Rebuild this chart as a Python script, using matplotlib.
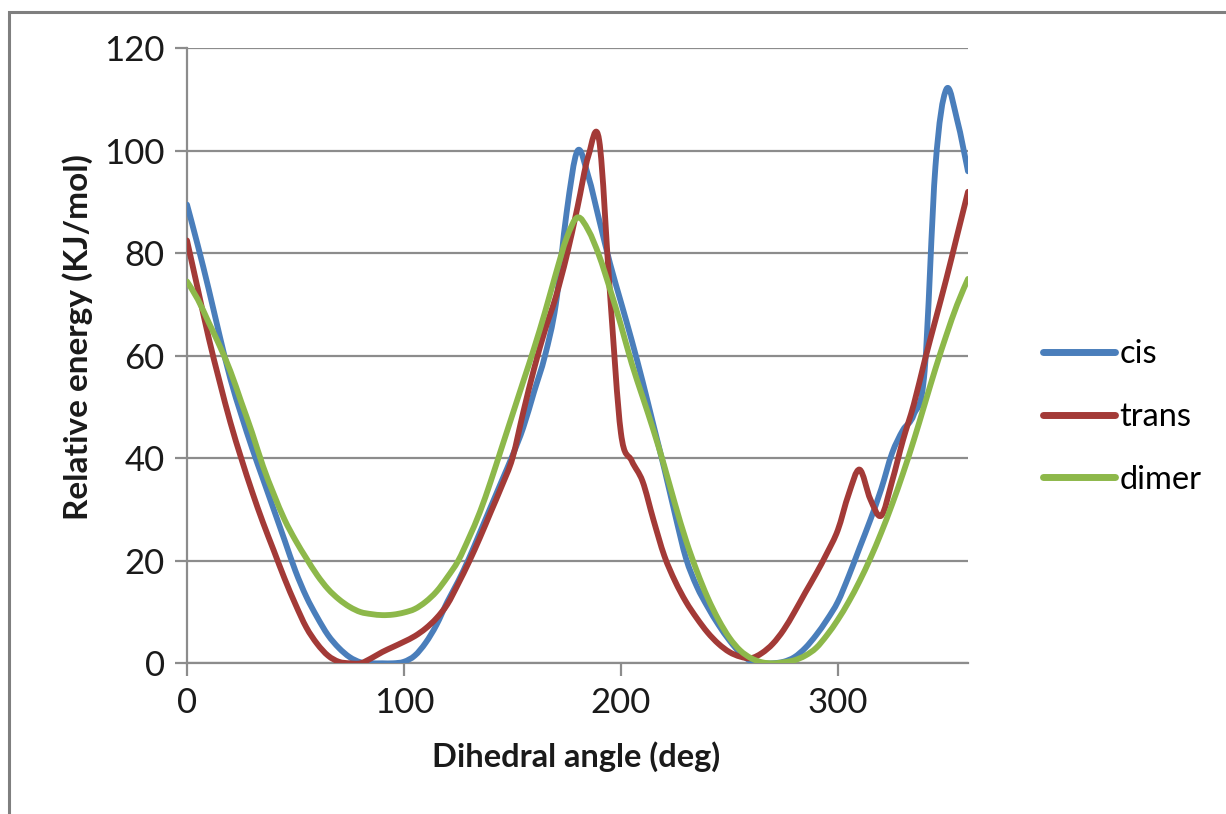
import numpy as np
import matplotlib
matplotlib.use("Agg")
import matplotlib.pyplot as plt
from matplotlib.path import Path
from matplotlib.patches import PathPatch, Rectangle
from matplotlib.lines import Line2D

plt.rcParams['font.family'] = ['Lato', 'DejaVu Sans']

angles = list(range(0, 361, 5))

cis = [89.5, 81.5, 73, 64, 55.5, 48.5, 42, 36, 30, 24, 18, 13, 9, 5.5, 3, 1.2,
       0.2, 0, 0, 0, 0.3, 1.5, 4, 7.5, 12, 16, 20.5, 25.5, 30.5, 35.5, 40.5, 46,
       53, 60, 70, 88, 100, 95, 86.5, 78, 70.5, 63, 55, 46.5, 38, 29, 20.5, 15,
       11, 7.5, 4.5, 2, 0.4, 0, 0, 0.3, 1.2, 3, 5.5, 8.5, 12, 17, 22.5, 28, 34,
       41, 45.5, 48.5, 57, 97, 112, 106, 96]

trans = [82.5, 73, 63.5, 55, 47, 40, 33.5, 27.5, 22, 16.5, 11.5, 7, 3.8, 1.5,
         0.3, 0, 0, 1, 2.2, 3.2, 4.2, 5.3, 6.8, 8.8, 11.5, 15.5, 19.8, 24.5, 29.5,
         34.5, 40, 49, 57.5, 65, 71.5, 79.5, 89, 99, 102, 72, 45, 39.5, 35.5, 28,
         21, 16, 12, 8.8, 6, 3.8, 2.2, 1.3, 1, 2, 3.8, 6.5, 10, 13.8, 17.5, 21.5,
         26, 33, 37.8, 32, 28.8, 35.5, 43.5, 50.5, 59, 67, 75, 83.5, 92]

dimer = [74.5, 71, 66.5, 62, 57, 51, 45, 38.5, 33, 28, 24, 20.5, 17.2, 14.5, 12.5,
         11, 10, 9.6, 9.4, 9.5, 9.9, 10.6, 12, 14, 16.8, 20, 24.5, 29.5, 35.5,
         42, 48.5, 55, 61.5, 68.5, 76, 83, 87, 84.5, 79.5, 73, 66, 58.5, 52, 45.5,
         38.5, 31, 24, 18, 12.8, 8.5, 5, 2.5, 1, 0.2, 0, 0.2, 0.6, 1.5, 3, 5.5, 8.5,
         12, 16, 20.5, 25.5, 31, 37, 43.5, 50.5, 57.5, 64, 70, 75]

series_names = ['cis', 'trans', 'dimer']
colors = ['#4a7ebb', '#a33a37', '#8db84a']

x_ticks = [0, 100, 200, 300]
y_ticks = [0, 20, 40, 60, 80, 100, 120]


def smooth_path(xs, ys):
    p = np.column_stack([xs, ys]).astype(float)
    n = len(p)
    verts = [p[0]]
    codes = [Path.MOVETO]
    for i in range(n - 1):
        p0 = p[i - 1] if i > 0 else p[i]
        p1 = p[i]
        p2 = p[i + 1]
        p3 = p[i + 2] if i + 2 < n else p[i + 1]
        c1 = p1 + (p2 - p0) / 6.0
        c2 = p2 - (p3 - p1) / 6.0
        verts += [c1, c2, p2]
        codes += [Path.CURVE4] * 3
    return Path(verts, codes)


fig = plt.figure(figsize=(12.26, 8.14), dpi=100)
fig.patches.append(Rectangle((9 / 1226, -0.05), 1.2, 1 - 12 / 814 + 0.05,
                             transform=fig.transFigure, fill=False,
                             edgecolor='#7f7f7f', linewidth=2.2, zorder=0))

ax = fig.add_axes([187 / 1226, 1 - 663.3 / 814, (968 - 187) / 1226, (663.3 - 48.3) / 814])

for name, ys, c in zip(series_names, [cis, trans, dimer], colors):
    patch = PathPatch(smooth_path(angles, ys), facecolor='none', edgecolor=c,
                      linewidth=4.2, capstyle='round', joinstyle='round', zorder=3)
    ax.add_patch(patch)

ax.set_xlim(0, 360)
ax.set_ylim(0, 120)
ax.set_xticks(x_ticks)
ax.set_yticks(y_ticks)
ax.set_xticklabels([str(t) for t in x_ticks])
ax.set_yticklabels([str(t) for t in y_ticks])
ax.yaxis.grid(True, color='#8c8c8c', linewidth=1.6, zorder=1)
ax.set_axisbelow(True)
for s in ['top', 'right']:
    ax.spines[s].set_visible(False)
ax.spines['left'].set_color('#8c8c8c')
ax.spines['left'].set_linewidth(1.6)
ax.spines['bottom'].set_color('#8c8c8c')
ax.spines['bottom'].set_linewidth(1.6)
ax.tick_params(axis='both', direction='out', length=9, width=1.6, color='#8c8c8c',
               labelsize=25, labelcolor='#1a1a1a')
ax.tick_params(axis='y', pad=7)
ax.tick_params(axis='x', pad=8)

ax.set_xlabel('Dihedral angle (deg)', fontsize=23.5, fontweight='bold', color='#1a1a1a',
              va='center')
ax.xaxis.set_label_coords((576 - 187) / 781, (663.3 - 757) / 615)
ax.set_ylabel('Relative energy (KJ/mol)', fontsize=24, fontweight='bold', color='#1a1a1a',
              va='center')
ax.yaxis.set_label_coords((78 - 187) / 781, (663.3 - 337) / 615)

handles = [Line2D([0], [0], color=c, linewidth=5, solid_capstyle='round') for c in colors]
leg = fig.legend(handles, series_names, loc='center left',
                 bbox_to_anchor=(1043 / 1226, 1 - 417 / 814), frameon=False,
                 fontsize=23.5, handlelength=2.2, handletextpad=0.15, labelspacing=1.0,
                 borderpad=0, borderaxespad=0)

fig.savefig('out.png', dpi=100)
